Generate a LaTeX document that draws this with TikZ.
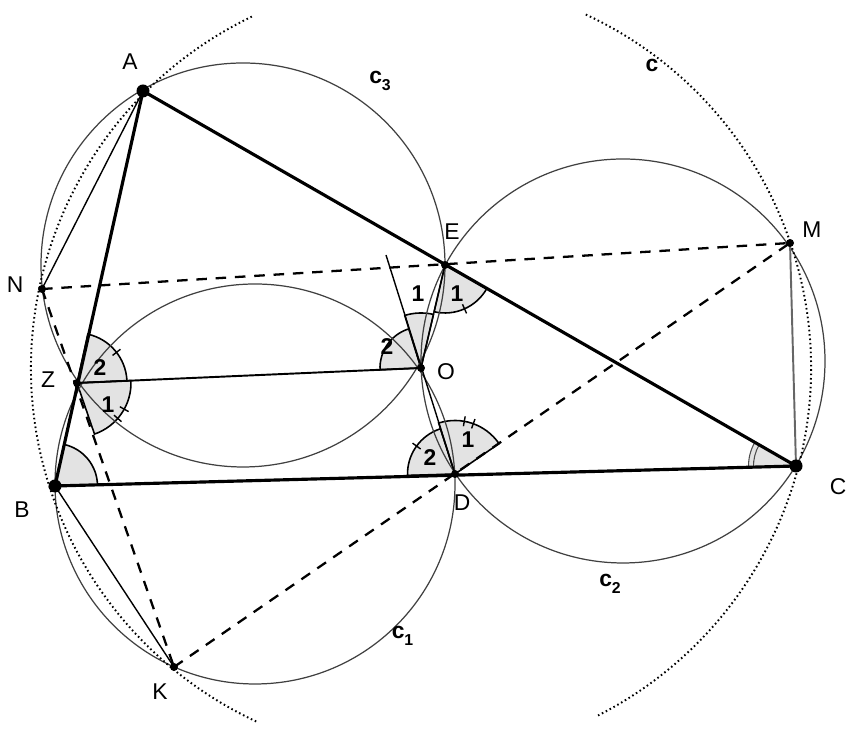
\documentclass[tikz,border=0pt]{standalone}
\usepackage{fontspec}
\setmainfont{Liberation Sans}

\begin{document}
\begin{tikzpicture}[
  side/.style={line width=1.8pt},
  circ/.style={black!75, line width=0.7pt},
  bigcirc/.style={line width=1.1pt, dash pattern=on 0.9pt off 1.6pt},
  dashline/.style={line width=1.3pt, dash pattern=on 6pt off 5pt},
  chord/.style={line width=0.8pt},
  sector/.style={fill=gray!22, draw=black, line width=0.9pt},
  lbl/.style={font=\fontsize{13}{15}\selectfont},
  num/.style={font=\fontsize{13}{15}\selectfont\bfseries}
]
\useasboundingbox (0,0) rectangle (17,14.62);

% points
\coordinate (A) at (2.86,12.80);
\coordinate (B) at (1.10,4.90);
\coordinate (C) at (15.92,5.30);
\coordinate (E) at (8.90,9.32);
\coordinate (N) at (0.84,8.84);
\coordinate (M) at (15.80,9.76);
\coordinate (Z) at (1.54,6.96);
\coordinate (O) at (8.42,7.26);
\coordinate (D) at (9.10,5.14);
\coordinate (K) at (3.48,1.28);
\coordinate (T) at (7.72,9.52);
% centres of c1, c2, c3
\coordinate (Oc1) at (5.10,4.94);
\coordinate (Oc2) at (12.46,7.40);
\coordinate (Oc3) at (4.86,9.32);

% angles
\filldraw[sector] (Z) -- ++(2.5:1.0) arc[start angle=2.5, end angle=77.5, radius=1.0] -- cycle;
\filldraw[sector] (Z) -- ++(-71.1:1.08) arc[start angle=-71.1, end angle=2.5, radius=1.08] -- cycle;
\filldraw[sector] (B) -- ++(1.5:0.85) arc[start angle=1.5, end angle=77.6, radius=0.85] -- cycle;
\filldraw[sector] (D) -- ++(107.8:0.95) arc[start angle=107.8, end angle=181.7, radius=0.95] -- cycle;
\filldraw[sector] (D) -- ++(34.6:1.07) arc[start angle=34.6, end angle=107.8, radius=1.07] -- cycle;
\filldraw[sector] (E) -- ++(-103.1:0.96) arc[start angle=-103.1, end angle=-29.8, radius=0.96] -- cycle;
\filldraw[sector] (O) -- ++(107.2:0.82) arc[start angle=107.2, end angle=182.5, radius=0.82] -- cycle;
\filldraw[sector] (O) -- ++(76.9:1.1) arc[start angle=76.9, end angle=107.2, radius=1.1] -- cycle;
\fill[gray!22] (C) -- ++(150.1:0.95) arc[start angle=150.1, end angle=181.5, radius=0.95] -- cycle;
\draw[black!70, line width=0.6pt] (C) ++(150.1:0.95) arc[start angle=150.1, end angle=181.5, radius=0.95];
\draw[black!70, line width=0.6pt] (C) ++(150.1:0.85) arc[start angle=150.1, end angle=181.5, radius=0.85];

% ticks
\draw[line width=0.8pt] (Z) ++(37.8:0.9) -- ++(37.8:0.2);
\foreach \a in {-29,-41} \draw[line width=0.8pt] (Z) ++(\a:0.98) -- ++(\a:0.2);
\draw[line width=0.8pt] (E) ++(-66:0.86) -- ++(-66:0.2);
\draw[line width=0.8pt] (D) ++(144:0.85) -- ++(144:0.2);
\foreach \a in {80,70} \draw[line width=0.8pt] (D) ++(\a:0.97) -- ++(\a:0.2);

% circles
\draw[circ] (Oc1) circle (4.0);
\draw[circ] (Oc2) circle (4.04);
\draw[circ] (Oc3) circle (4.04);
\draw[bigcirc] (O) ++(115.7:7.8) arc[start angle=115.7, end angle=245, radius=7.8];
\draw[bigcirc] (O) ++(65:7.8) arc[start angle=65, end angle=-63, radius=7.8];

% dashed lines
\draw[dashline] (N) -- (M);
\draw[dashline] (N) -- (K);
\draw[dashline] (K) -- (M);

% thin lines
\draw[chord] (A) -- (N);
\draw[chord] (B) -- (K);
\draw[black!60, line width=1.1pt] (M) -- (C);
\draw[line width=1.1pt] (Z) -- (O);
\draw[line width=0.8pt] (D) -- (T);
\draw[line width=0.8pt] (O) -- (E);

% triangle
\draw[side, line join=round] (A) -- (B) -- (C) -- cycle;

% dots
\foreach \p in {A,B,C} \fill (\p) circle (0.13);
\foreach \p in {E,N,M,Z,O,D,K} \fill (\p) circle (0.08);

% labels
\node[lbl] (lA) at (2.6,13.38) {A};
\node[lbl] (lB) at (0.44,4.42) {B};
\node[lbl] (lC) at (16.76,4.88) {C};
\node[lbl] (lE) at (9.04,9.98) {E};
\node[lbl] (lN) at (0.3,8.92) {N};
\node[lbl] (lM) at (16.24,10.02) {M};
\node[lbl] (lZ) at (0.96,7.02) {Z};
\node[lbl] (lO) at (8.92,7.18) {O};
\node[lbl] (lD) at (9.24,4.56) {D};
\node[lbl] (lK) at (3.2,0.78) {K};
\node[num] (lc) at (13.04,13.32) {c};
\node[num] (lc1) at (8.05,1.9) {c\raisebox{-0.6ex}{\small 1}};
\node[num] (lc2) at (12.2,2.94) {c\raisebox{-0.6ex}{\small 2}};
\node[num] (lc3) at (7.6,13.0) {c\raisebox{-0.6ex}{\small 3}};

% angle numbers
\node[num] (z2) at (2.0,7.26) {2};
\node[num] (z1) at (2.16,6.52) {1};
\node[num] (o2) at (7.74,7.68) {2};
\node[num] (o1) at (8.36,8.74) {1};
\node[num] (e1) at (9.14,8.74) {1};
\node[num] (d2) at (8.6,5.46) {2};
\node[num] (d1) at (9.36,5.82) {1};
\end{tikzpicture}
\end{document}
